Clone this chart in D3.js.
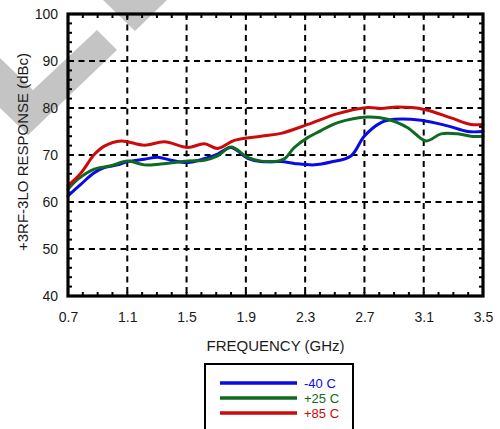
<!DOCTYPE html>
<html>
<head>
<meta charset="utf-8">
<script src="https://cdn.jsdelivr.net/npm/d3@7"></script>
<style>
  html, body { margin: 0; padding: 0; background: #fff; }
  svg { display: block; }
  text { font-family: "Liberation Sans", Arial, Helvetica, sans-serif; }
</style>
</head>
<body>
<script>
// ---- Data ----
const xTicks = [0.7, 1.1, 1.5, 1.9, 2.3, 2.7, 3.1, 3.5];
const yTicks = [40, 50, 60, 70, 80, 90, 100];
const seriesNames = ["-40 C", "+25 C", "+85 C"];
const seriesColors = ["#0a0ae6", "#0f6a22", "#cc0a0a"];

const freqM40 = [0.70, 0.788, 0.877, 0.945, 1.035, 1.103, 1.215, 1.305, 1.395, 1.508, 1.62, 1.71, 1.80, 1.912, 2.002, 2.137, 2.227, 2.362, 2.474, 2.609, 2.699, 2.812, 2.902, 3.081, 3.261, 3.396, 3.50];
const respM40 = [61.3, 63.8, 66.2, 67.3, 67.9, 68.6, 69.1, 69.5, 68.9, 68.4, 69.2, 70.2, 71.6, 69.3, 68.6, 68.6, 68.2, 67.9, 68.5, 69.8, 74.0, 76.9, 77.6, 77.4, 76.2, 75.0, 75.0];

const freqP25 = [0.70, 0.765, 0.877, 0.99, 1.103, 1.215, 1.327, 1.508, 1.62, 1.71, 1.80, 1.912, 2.002, 2.092, 2.16, 2.227, 2.317, 2.407, 2.52, 2.722, 2.857, 2.992, 3.115, 3.217, 3.329, 3.419, 3.50];
const respP25 = [62.7, 64.8, 67.0, 67.7, 68.7, 67.9, 68.1, 68.7, 68.9, 69.8, 71.7, 69.5, 68.7, 68.6, 69.2, 71.6, 73.7, 75.2, 76.9, 78.1, 77.6, 75.8, 73.0, 74.5, 74.5, 74.0, 74.0];

const freqP85 = [0.70, 0.788, 0.877, 0.945, 1.058, 1.215, 1.35, 1.508, 1.62, 1.71, 1.822, 2.002, 2.137, 2.317, 2.52, 2.722, 2.812, 2.924, 3.104, 3.284, 3.419, 3.50];
const respP85 = [63.5, 66.2, 70.1, 71.9, 73.0, 72.1, 72.8, 71.6, 72.4, 71.4, 73.1, 74.0, 74.6, 76.5, 78.8, 80.1, 79.9, 80.2, 79.7, 77.9, 76.5, 76.5];

const seriesFreqs = [freqM40, freqP25, freqP85];
const seriesResps = [respM40, respP25, respP85];

// ---- Layout ----
const W = 500, H = 429;
const svg = d3.select("body").append("svg").attr("width", W).attr("height", H);

const x = d3.scaleLinear().domain([0.7, 3.5]).range([68, 483]);
const y = d3.scaleLinear().domain([40, 100]).range([296, 14]);

// watermark
const wm = svg.append("g").attr("fill", "#c4c4c4");
wm.append("polygon").attr("points", "0,58 33,90 97,30 117,50 28,135 0,108");
wm.append("polygon").attr("points", "103,0 135,31 167,0");

// gridlines
const grid = svg.append("g").attr("stroke", "#000").attr("stroke-width", 2).attr("stroke-dasharray", "6,4.5");
grid.selectAll("line.v").data(xTicks.slice(1, -1)).enter().append("line")
  .attr("x1", d => x(d)).attr("x2", d => x(d)).attr("y1", y(100)).attr("y2", y(40));
grid.selectAll("line.h").data(yTicks.slice(1, -1)).enter().append("line")
  .attr("x1", x(0.7)).attr("x2", x(3.5)).attr("y1", d => y(d)).attr("y2", d => y(d));

// minor ticks (inside frame)
const minorX = d3.range(7, 36).map(d => d / 10);
const minorY = d3.range(40, 101, 2);
const mt = svg.append("g").attr("stroke", "#000").attr("stroke-width", 2);
minorX.forEach(f => {
  mt.append("line").attr("x1", x(f)).attr("x2", x(f)).attr("y1", y(100)).attr("y2", y(100) + 4);
  mt.append("line").attr("x1", x(f)).attr("x2", x(f)).attr("y1", y(40)).attr("y2", y(40) - 4);
});
minorY.forEach(v => {
  mt.append("line").attr("x1", x(0.7)).attr("x2", x(0.7) + 4).attr("y1", y(v)).attr("y2", y(v));
  mt.append("line").attr("x1", x(3.5)).attr("x2", x(3.5) - 4).attr("y1", y(v)).attr("y2", y(v));
});

// series
const line = d3.line().x(d => x(d[0])).y(d => y(d[1])).curve(d3.curveCatmullRom.alpha(0.5));
seriesNames.forEach((name, i) => {
  const pts = seriesFreqs[i].map((f, j) => [f, seriesResps[i][j]]);
  svg.append("path").datum(pts)
    .attr("fill", "none").attr("stroke", seriesColors[i]).attr("stroke-width", 3)
    .attr("stroke-linejoin", "round").attr("stroke-linecap", "round")
    .attr("d", line);
});

// frame
svg.append("rect").attr("x", x(0.7)).attr("y", y(100))
  .attr("width", x(3.5) - x(0.7)).attr("height", y(40) - y(100))
  .attr("fill", "none").attr("stroke", "#000").attr("stroke-width", 3.2);

// axes (labels only, via d3 axes)
const xAxis = d3.axisBottom(x).tickValues(xTicks).tickFormat(d3.format(".1f")).tickSize(0).tickPadding(16);
const gx = svg.append("g").attr("transform", `translate(0,${y(40)})`).call(xAxis);
gx.select(".domain").remove();
gx.selectAll("text").attr("font-size", 14).attr("fill", "#1a1a1a")
  .attr("font-family", "'Liberation Sans', Arial, sans-serif");

const yAxis = d3.axisLeft(y).tickValues(yTicks).tickFormat(d3.format("d")).tickSize(0).tickPadding(10);
const gy = svg.append("g").attr("transform", `translate(${x(0.7)},0)`).call(yAxis);
gy.select(".domain").remove();
gy.selectAll("text").attr("font-size", 14).attr("fill", "#1a1a1a")
  .attr("font-family", "'Liberation Sans', Arial, sans-serif");

// axis titles
svg.append("text").attr("x", (x(0.7) + x(3.5)) / 2).attr("y", 351)
  .attr("text-anchor", "middle").attr("font-size", 15).attr("fill", "#1a1a1a")
  .text("FREQUENCY (GHz)");
svg.append("text").attr("transform", "translate(28,152) rotate(-90)")
  .attr("text-anchor", "middle").attr("font-size", 15).attr("fill", "#1a1a1a")
  .text("+3RF-3LO RESPONSE (dBc)");

// legend
const lg = svg.append("g");
lg.append("rect").attr("x", 205).attr("y", 364).attr("width", 148).attr("height", 80)
  .attr("fill", "#fff").attr("stroke", "#000").attr("stroke-width", 2);
seriesNames.forEach((name, i) => {
  const ly = 383 + i * 15;
  lg.append("line").attr("x1", 220).attr("x2", 297).attr("y1", ly).attr("y2", ly)
    .attr("stroke", seriesColors[i]).attr("stroke-width", 3.5);
  lg.append("text").attr("x", 304).attr("y", ly + 5).attr("font-size", 13)
    .attr("fill", seriesColors[i]).text(name);
});
</script>
</body>
</html>
